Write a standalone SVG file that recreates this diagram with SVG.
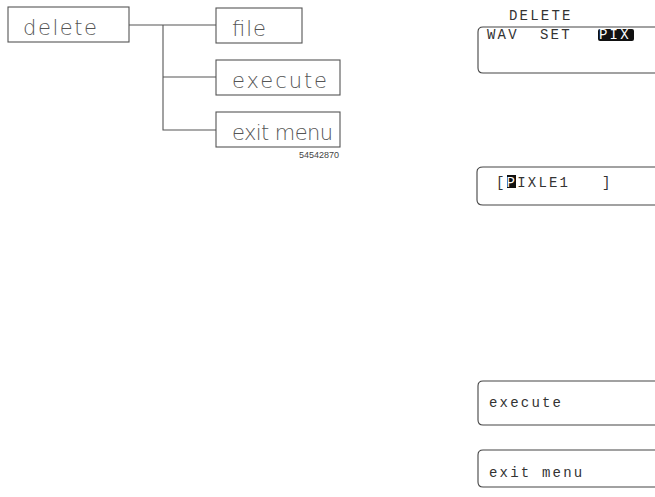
<svg xmlns="http://www.w3.org/2000/svg" width="655" height="497" viewBox="0 0 655 497">
<style>
.box{fill:#fff;stroke:#555;stroke-width:1.1}
.lbl{font-family:"DejaVu Sans",sans-serif;font-weight:200;font-size:21px;fill:#555}
.con{stroke:#555;stroke-width:1.1;fill:none}
.scr{fill:#fff;stroke:#444;stroke-width:1.1}
.mono{font-family:"Liberation Mono",monospace;font-size:14px;fill:#333;letter-spacing:2.2px;white-space:pre}
.num{font-family:"Liberation Sans",sans-serif;font-size:9px;fill:#444}
</style>
<rect width="655" height="497" fill="#fff"/>
<g id="connectors">
<path class="con" d="M129 25H216M163 25V130H216M163 77H216"/>
</g>
<g id="node-delete"><rect class="box" x="8" y="7" width="121" height="35"/><text class="lbl" x="23" y="35" textLength="74" lengthAdjust="spacing">delete</text></g>
<g id="node-file"><rect class="box" x="216" y="8" width="86" height="35"/><text class="lbl" x="232" y="36" textLength="34" lengthAdjust="spacing">file</text></g>
<g id="node-execute"><rect class="box" x="216" y="60" width="124" height="35"/><text class="lbl" x="232" y="88" textLength="95" lengthAdjust="spacing">execute</text></g>
<g id="node-exit"><rect class="box" x="216" y="112" width="124" height="35"/><text class="lbl" x="232" y="140" textLength="101" lengthAdjust="spacing">exit menu</text></g>
<text class="num" x="339" y="158" text-anchor="end">54542870</text>
<g id="screen-1">
<text class="mono" x="509" y="20">DELETE</text>
<path class="scr" d="M660 27H483Q478 27 478 32V68Q478 73 483 73H660"/>
<text class="mono" x="487" y="39">WAV</text>
<text class="mono" x="540" y="39">SET</text>
<rect x="598" y="29" width="36" height="12" rx="2" fill="#111"/>
<text class="mono" x="599" y="39" style="fill:#fff">PIX</text>
</g>
<g id="screen-2">
<path class="scr" d="M660 167H483Q477 167 477 172V200Q477 205 483 205H660"/>
<rect x="507" y="175" width="9" height="13" fill="#111"/>
<text class="mono" x="496" y="187" xml:space="preserve">[<tspan style="fill:#fff">P</tspan>IXLE1   ]</text>
</g>
<g id="screen-3">
<path class="scr" d="M660 381H483Q478 381 478 386V420Q478 425 483 425H660"/>
<text class="mono" x="489" y="407">execute</text>
</g>
<g id="screen-4">
<path class="scr" d="M660 450H483Q478 450 478 455V482Q478 487 483 487H660"/>
<text class="mono" x="489" y="477">exit menu</text>
</g>
</svg>
